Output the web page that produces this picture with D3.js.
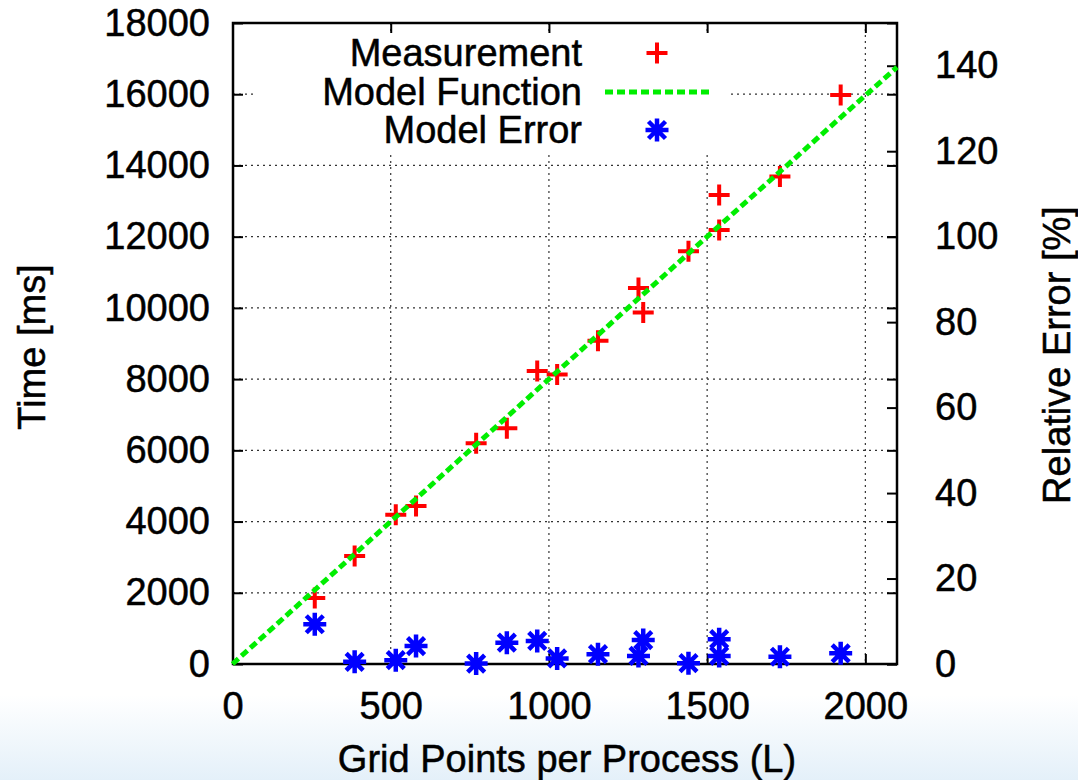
<!DOCTYPE html>
<html>
<head>
<meta charset="utf-8">
<script src="https://cdn.jsdelivr.net/npm/d3@7"></script>
<style>
  body { margin: 0; background: #fff; }
  text { font-family: "Liberation Sans", Arial, sans-serif; fill: #000; stroke: #000; stroke-width: 0.5px; }
</style>
</head>
<body>
<div id="chart"></div>
<script>
// data
const gridPoints = [260, 386, 516, 580, 770, 867, 963, 1026, 1155, 1283, 1298, 1441, 1538, 1538, 1730, 1922];
const timeMs     = [1850, 3030, 4190, 4440, 6200, 6620, 8230, 8130, 9080, 10560, 9870, 11590, 13170, 12190, 13690, 15980];
const errPct     = [9.3, 0.5, 0.9, 4.2, 0.1, 5.0, 5.4, 1.3, 2.3, 1.9, 5.6, 0.2, 5.8, 1.9, 1.7, 2.5];
const modelL     = [0, 500, 1000, 1500, 2100];
const modelT     = [0, 4000, 8000, 12000, 16760];
const xTicks  = [0, 500, 1000, 1500, 2000];
const yTicks  = [0, 2000, 4000, 6000, 8000, 10000, 12000, 14000, 16000, 18000];
const y2Ticks = [0, 20, 40, 60, 80, 100, 120, 140];
const legendLabels = ["Measurement", "Model Function", "Model Error"];

const W = 1078, H = 780;
const margin = { top: 23, right: 181, bottom: 116, left: 233 };
const pL = margin.left, pT = margin.top,
    pR = W - margin.right, pB = H - margin.bottom;
const fontSize = "38px";

const svg = d3.select("#chart").append("svg")
    .attr("width", W)
    .attr("height", H);

// slide background: light blue fade at the bottom
const grad = svg.append("defs").append("linearGradient")
    .attr("id", "bg")
    .attr("gradientUnits", "userSpaceOnUse")
    .attr("x1", 0).attr("y1", 695).attr("x2", 0).attr("y2", H);
grad.append("stop").attr("offset", 0).attr("stop-color", "#ffffff");
grad.append("stop").attr("offset", 1).attr("stop-color", "#e4f0f9");
svg.append("rect").attr("width", W).attr("height", H).attr("fill", "url(#bg)");

// scales
const x = d3.scaleLinear().domain([0, 2100]).range([pL - 0.5, pR]);
const y = d3.scaleLinear().domain([0, 18000]).range([pB, pT]);
const y2 = d3.scaleLinear().domain([0, 150]).range([pB, pT]);

svg.append("rect")
    .attr("x", pL).attr("y", pT)
    .attr("width", pR - pL).attr("height", pB - pT)
    .attr("fill", "#fff");

// grid
const grid = svg.append("g")
    .attr("stroke", "#333")
    .attr("stroke-width", 1.2)
    .attr("stroke-dasharray", "2,4");
grid.selectAll(".gx")
    .data(xTicks.filter(d => d > 0))
    .enter().append("line")
    .attr("x1", d => x(d)).attr("x2", d => x(d))
    .attr("y1", pT).attr("y2", pB);
grid.selectAll(".gy")
    .data(yTicks.filter(d => d > 0 && d < 18000))
    .enter().append("line")
    .attr("x1", pL).attr("x2", pR)
    .attr("y1", d => y(d)).attr("y2", d => y(d));

// legend box hides the grid behind it
svg.append("rect")
    .attr("x", 255).attr("y", 33)
    .attr("width", 476).attr("height", 119)
    .attr("fill", "#fff");

function styleAxis(g, labels) {
    g.select(".domain").remove();
    g.selectAll(".tick line").attr("stroke", "#000").attr("stroke-width", 2);
    if (labels) {
        g.selectAll(".tick text").style("font-size", fontSize).attr("fill", "#000");
    } else {
        g.selectAll(".tick text").remove();
    }
}

const fmt = d3.format("d");

// axes (ticks pointing inward, gnuplot style)
svg.append("g")
    .attr("transform", "translate(" + pL + ",0)")
    .call(d3.axisLeft(y).tickValues(yTicks).tickFormat(fmt).tickSizeInner(-10).tickSizeOuter(0).tickPadding(23))
    .call(g => styleAxis(g, true));

svg.append("g")
    .attr("transform", "translate(" + pR + ",0)")
    .call(d3.axisRight(y).tickValues(yTicks).tickSizeInner(-10).tickSizeOuter(0))
    .call(g => styleAxis(g, false));

svg.append("g")
    .attr("transform", "translate(" + pR + ",0)")
    .call(d3.axisRight(y2).tickValues(y2Ticks).tickFormat(fmt).tickSizeInner(-10).tickSizeOuter(0).tickPadding(38))
    .call(g => styleAxis(g, true));

svg.append("g")
    .attr("transform", "translate(0," + pB + ")")
    .call(d3.axisBottom(x).tickValues(xTicks).tickFormat(fmt).tickSizeInner(-10).tickSizeOuter(0).tickPadding(28))
    .call(g => styleAxis(g, true));

svg.append("g")
    .attr("transform", "translate(0," + pT + ")")
    .call(d3.axisTop(x).tickValues(xTicks).tickSizeInner(-10).tickSizeOuter(0))
    .call(g => styleAxis(g, false));

// border
svg.append("rect")
    .attr("x", pL).attr("y", pT)
    .attr("width", pR - pL).attr("height", pB - pT)
    .attr("fill", "none")
    .attr("stroke", "#000")
    .attr("stroke-width", 2.5);

const plusPath = "M-10.5,0H10.5M0,-10.5V10.5";
const starPath = "M-11.5,0H11.5M0,-11.5V11.5M-8.5,-8.5L8.5,8.5M-8.5,8.5L8.5,-8.5";

const meas = gridPoints.map((d, i) => ({ L: d, t: timeMs[i], e: errPct[i] }));
const model = modelL.map((d, i) => ({ L: d, t: modelT[i] }));

const plot = svg.append("g");

// measurements
plot.selectAll(".meas")
    .data(meas)
    .enter().append("path")
    .attr("d", plusPath)
    .attr("transform", d => "translate(" + x(d.L) + "," + y(d.t) + ")")
    .attr("stroke", "#ff0000")
    .attr("stroke-width", 4)
    .attr("fill", "none");

// model function
const line = d3.line()
    .x(d => x(d.L))
    .y(d => y(d.t));

plot.append("path")
    .datum(model)
    .attr("d", line)
    .attr("fill", "none")
    .attr("stroke", "#00ee00")
    .attr("stroke-width", 5)
    .attr("stroke-dasharray", "8,4");

// model error (right axis)
plot.selectAll(".err")
    .data(meas)
    .enter().append("path")
    .attr("d", starPath)
    .attr("transform", d => "translate(" + x(d.L) + "," + y2(d.e) + ")")
    .attr("stroke", "#0000ff")
    .attr("stroke-width", 4.5)
    .attr("fill", "none");

// legend
const legY = [53, 92, 130];
const legend = svg.append("g");
legend.selectAll(".lt")
    .data(legendLabels)
    .enter().append("text")
    .attr("x", 582)
    .attr("y", (d, i) => legY[i])
    .attr("dy", "0.35em")
    .attr("text-anchor", "end")
    .style("font-size", fontSize)
    .text(d => d);

legend.append("path")
    .attr("d", plusPath)
    .attr("transform", "translate(657," + legY[0] + ")")
    .attr("stroke", "#ff0000").attr("stroke-width", 4).attr("fill", "none");
legend.append("line")
    .attr("x1", 605).attr("x2", 709)
    .attr("y1", legY[1]).attr("y2", legY[1])
    .attr("stroke", "#00ee00").attr("stroke-width", 5)
    .attr("stroke-dasharray", "8,4");
legend.append("path")
    .attr("d", starPath)
    .attr("transform", "translate(657," + legY[2] + ")")
    .attr("stroke", "#0000ff").attr("stroke-width", 4.5).attr("fill", "none");

// axis titles
svg.append("text")
    .attr("transform", "translate(32,347) rotate(-90)")
    .attr("text-anchor", "middle")
    .attr("dy", "0.35em")
    .style("font-size", fontSize)
    .text("Time [ms]");

svg.append("text")
    .attr("transform", "translate(1057,355) rotate(-90)")
    .attr("text-anchor", "middle")
    .attr("dy", "0.35em")
    .style("font-size", fontSize)
    .text("Relative Error [%]");

svg.append("text")
    .attr("x", 567)
    .attr("y", 759)
    .attr("text-anchor", "middle")
    .attr("dy", "0.35em")
    .style("font-size", fontSize)
    .text("Grid Points per Process (L)");
</script>
</body>
</html>
